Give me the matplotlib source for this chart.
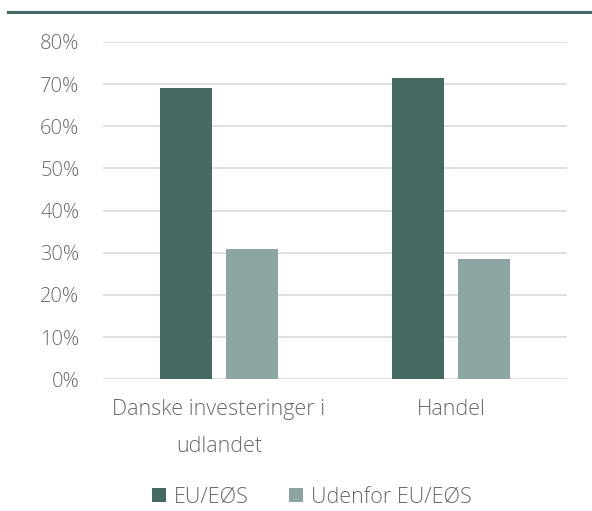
import numpy as np
import matplotlib
matplotlib.use("Agg")
from matplotlib import pyplot as plt
from matplotlib.lines import Line2D

categories = ["Danske investeringer i\nudlandet", "Handel"]
series_names = ["EU/EØS", "Udenfor EU/EØS"]
eu = [0.691, 0.714]
udenfor = [0.309, 0.286]
yticks = [0, 0.1, 0.2, 0.3, 0.4, 0.5, 0.6, 0.7, 0.8]

dark = "#466964"
light = "#8ba6a2"
txt = "#6a6a6a"

plt.rcParams['font.family'] = ['Open Sans', 'DejaVu Sans']

fig = plt.figure(figsize=(5.92, 5.11), dpi=100)
ax = fig.add_axes([0.174, 0.258, 0.784, 0.660])

x = np.arange(len(categories))
w = 0.224
off = 0.142
ax.bar(x - off, eu, w, color=dark, label=series_names[0], zorder=3)
ax.bar(x + off, udenfor, w, color=light, label=series_names[1], zorder=3)

ax.set_xlim(-0.5, 1.5)
ax.set_ylim(0, 0.8)
ax.set_yticks(yticks)
ax.set_yticklabels([f"{int(round(v*100))}%" for v in yticks])
ax.set_xticks(x)
ax.set_xticklabels(categories, linespacing=2.0)
ax.grid(axis="y", color="#d9d9d9", linewidth=1.2, zorder=0)
for s in ["top", "right", "left", "bottom"]:
    ax.spines[s].set_visible(False)
ax.tick_params(axis="y", length=0, labelsize=14.5, labelcolor=txt, pad=17)
ax.tick_params(axis="x", length=0, labelsize=15.5, labelcolor=txt, pad=14)
for lab in ax.get_xticklabels() + ax.get_yticklabels():
    lab.set_fontweight("light")

leg = ax.legend(loc="center", bbox_to_anchor=(0.45, -0.35), ncol=2, frameon=False,
                fontsize=15.5, handlelength=0.65, handleheight=0.65, handletextpad=0.35,
                columnspacing=1.9, borderpad=0)
for t in leg.get_texts():
    t.set_color(txt)
    t.set_fontweight("light")

fig.add_artist(Line2D([8 / 592, 1], [1 - 12 / 511, 1 - 12 / 511], color=dark, linewidth=2.2,
                      transform=fig.transFigure))

fig.savefig("out.png", dpi=100)
